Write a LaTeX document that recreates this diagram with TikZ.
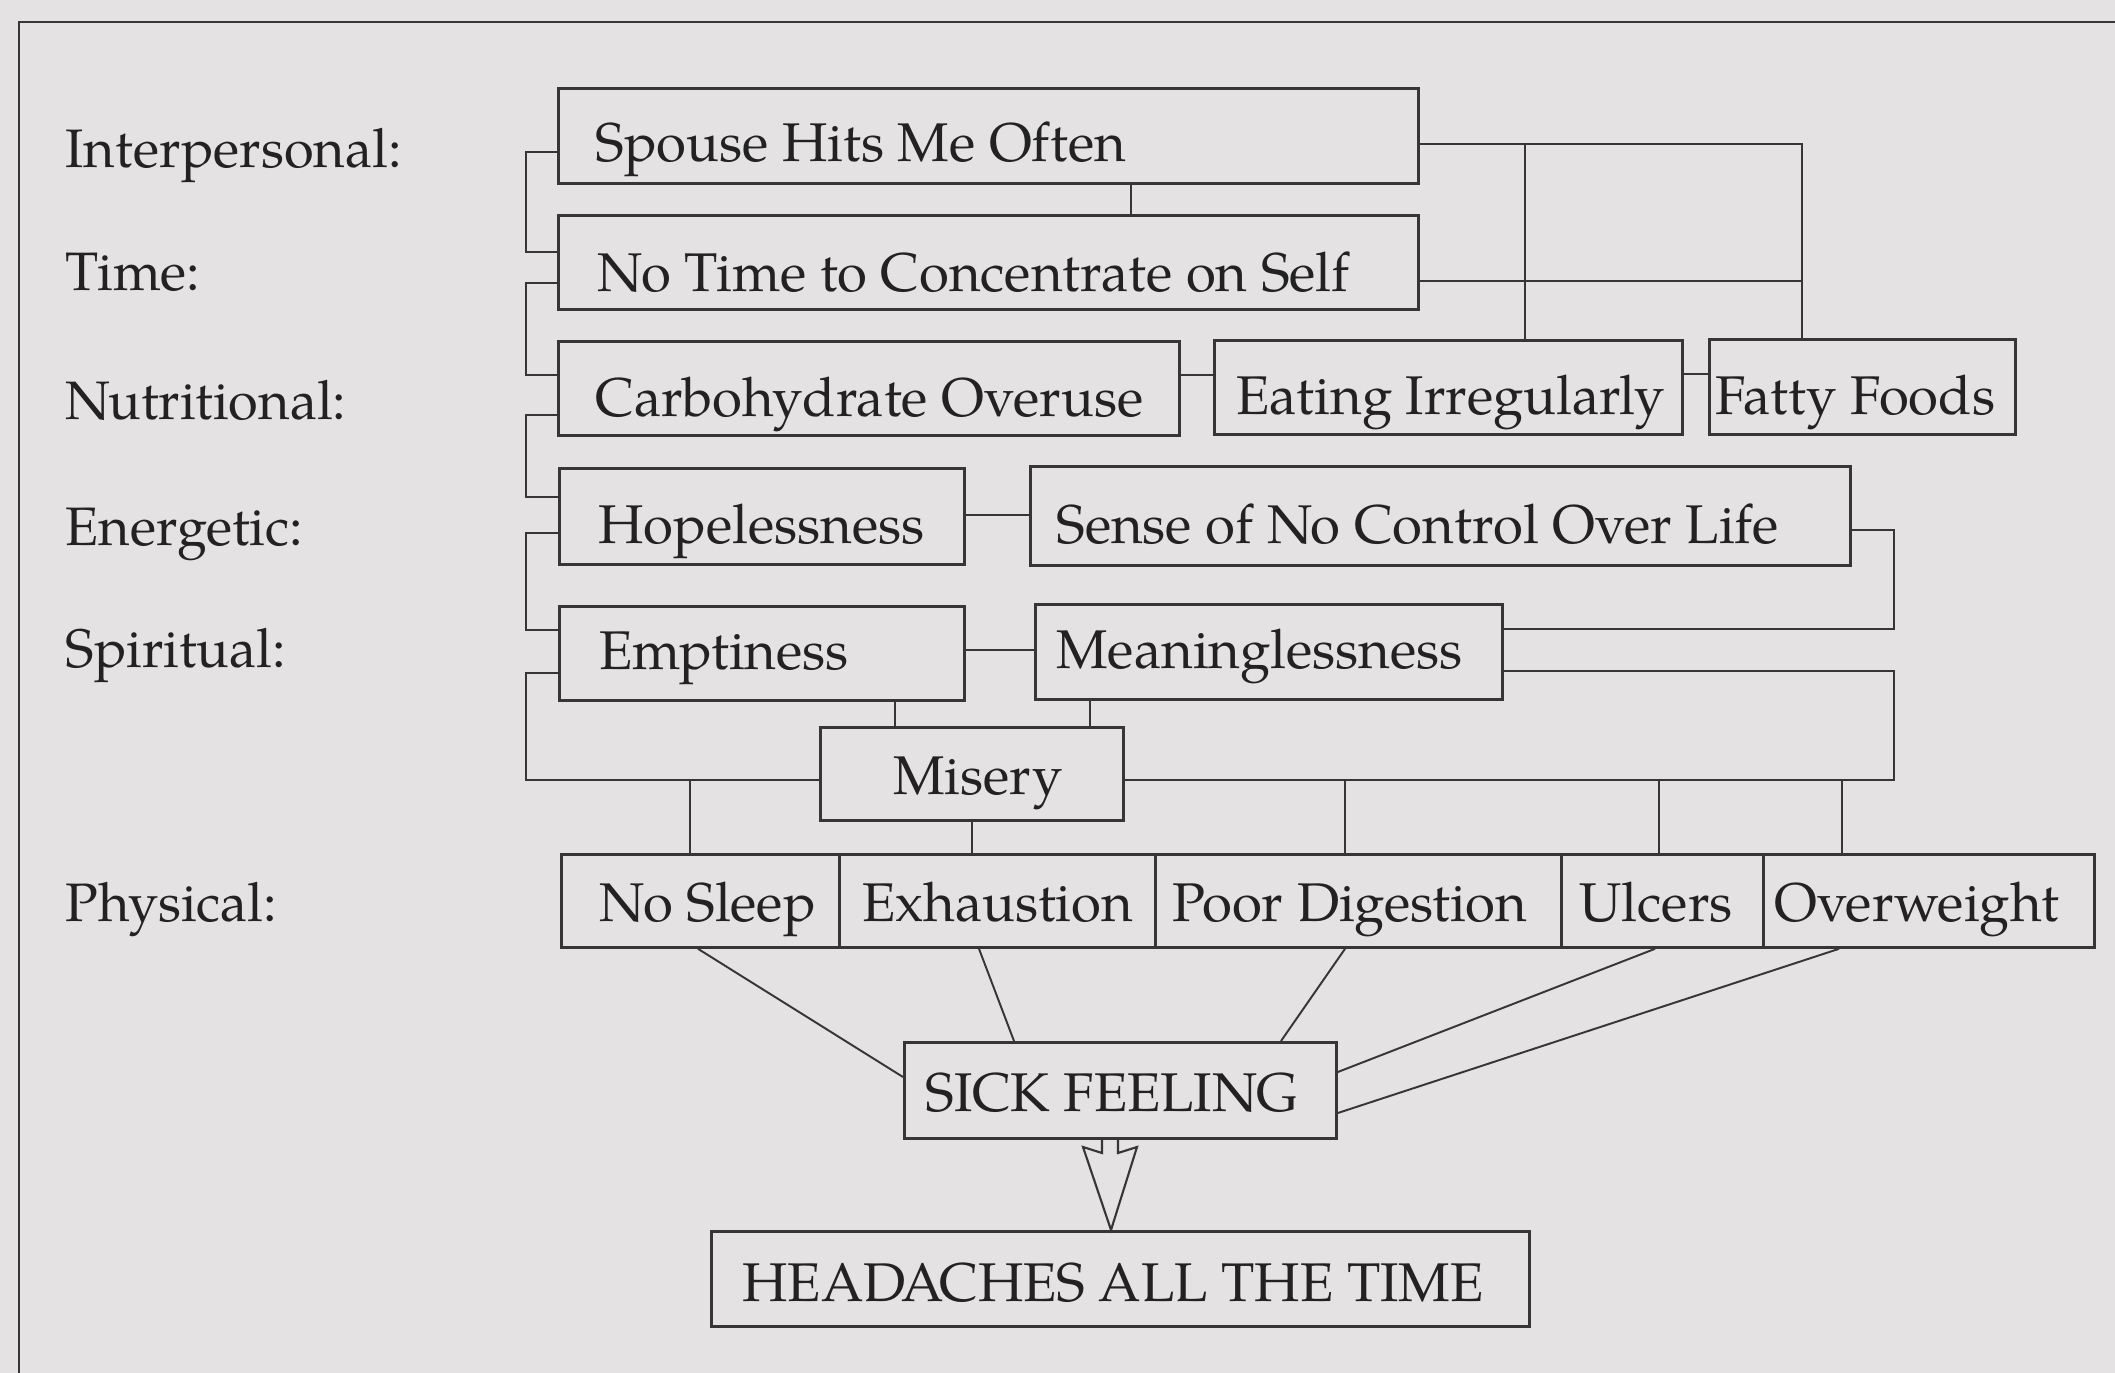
\documentclass[tikz,border=0pt]{standalone}
\usepackage{fontspec}
\setmainfont{TeX Gyre Pagella}
\definecolor{bgc}{HTML}{E4E2E2}
\definecolor{linec}{HTML}{363636}
\definecolor{textc}{HTML}{222222}
\tikzset{
  boxst/.style={draw=linec, line width=0.8pt, text=textc, inner sep=0pt,
    font=\fontsize{15.5}{19}\selectfont},
  lbl/.style={text=textc, inner sep=0pt, anchor=base west,
    font=\fontsize{15.4}{19}\selectfont},
  conn/.style={draw=linec, line width=0.55pt},
  framest/.style={draw=linec, line width=0.8pt},
  arrowst/.style={draw=linec, line width=0.6pt, line join=miter},
}
% name, x1, y1, x2, y2, left pad, baseline, text   (pixel units)
\newcommand\flowbox[8]{%
  \pgfmathsetmacro\fbW{(#4-#2)*0.01}%
  \pgfmathsetmacro\fbH{(#7-#3)*0.01}%
  \pgfmathsetmacro\fbD{(#5-#7)*0.01}%
  \pgfmathsetmacro\fbP{#6*0.01}%
  \node[boxst, anchor=north west, text height=\fbH cm, text depth=\fbD cm]
    (#1) at (#2,#3) {\makebox[\fbW cm][l]{\hspace*{\fbP cm}#8}};%
}
\begin{document}
\begin{tikzpicture}[x=0.01cm,y=-0.01cm]
\fill[bgc] (0,0) rectangle (2115,1373);
\useasboundingbox (0,0) rectangle (2115,1373);
% frame
\coordinate (frTL) at (19,22);
\coordinate (frTR) at (2115,22);
\coordinate (frBL) at (19,1373);
\draw[framest] (frTR) -- (frTL) -- (frBL);

% category labels
\node[lbl] (lInt) at (65,168) {Interpersonal:};
\node[lbl] (lTime) at (65,291) {Time:};
\node[lbl] (lNut) at (65,419) {Nutritional:};
\node[lbl] (lEne) at (65,545) {Energetic:};
\node[lbl] (lSpi) at (65,667) {Spiritual:};
\node[lbl] (lPhy) at (65,921) {Physical:};

% boxes
\flowbox{spouse}{557}{87}{1417}{182}{37}{160}{Spouse Hits Me Often}
\flowbox{time}{557}{214}{1417}{308}{39}{290}{No Time to Concentrate on Self}
\flowbox{carbo}{557}{340}{1178}{434}{37}{415}{Carbohydrate Overuse}
\flowbox{eating}{1213}{339}{1681}{433}{22}{413}{Eating Irregularly}
\flowbox{fatty}{1708}{338}{2014}{433}{6}{413}{Fatty Foods}
\flowbox{hope}{558}{467}{963}{563}{39}{542}{Hopelessness}
\flowbox{sense}{1029}{465}{1849}{564}{26}{542}{Sense of No Control Over Life}
\flowbox{empti}{558}{605}{963}{699}{40}{668}{Emptiness}
\flowbox{meaning}{1034}{603}{1501}{698}{21}{667}{Meaninglessness}
\flowbox{misery}{819}{726}{1122}{819}{73}{793}{Misery}
\flowbox{nosleep}{560}{853}{838}{946}{38}{920}{No Sleep}
\flowbox{exhaust}{838}{853}{1154}{946}{23}{920}{Exhaustion}
\flowbox{poordig}{1154}{853}{1560}{946}{17}{920}{Poor Digestion}
\flowbox{ulcers}{1560}{853}{1762}{946}{18}{920}{Ulcers}
\flowbox{overw}{1762}{853}{2093}{946}{11}{920}{Overweight}
\flowbox{sick}{903}{1041}{1335}{1137}{21}{1110}{SICK FEELING}
\flowbox{head}{710}{1230}{1528}{1325}{31}{1300}{HEADACHES ALL THE TIME}

% left brackets
\draw[conn] (spouse.west |- 0,152) -| (526,202) |- (time.west |- 0,252);
\draw[conn] (time.west |- 0,283) -| (526,330) |- (carbo.west |- 0,375);
\draw[conn] (carbo.west |- 0,415) -| (526,450) |- (hope.west |- 0,497);
\draw[conn] (hope.west |- 0,533) -| (526,580) |- (empti.west |- 0,630);
\draw[conn] (empti.west |- 0,673) -| (526,726) |- (misery.west |- 0,780);

% top right links
\draw[conn] (spouse.south -| 1131,0) -- (time.north -| 1131,0);
\draw[conn] (spouse.east |- 0,144) -| (fatty.north -| 1802,0);
\coordinate (jA) at (1525,144);
\coordinate (jB) at (1802,281);
\draw[conn] (jA) -- (eating.north -| jA);
\draw[conn] (time.east |- 0,281) -- (jB);
\draw[conn] (carbo.east |- 0,375) -- (eating.west |- 0,375);
\draw[conn] (eating.east |- 0,374) -- (fatty.west |- 0,374);

% energetic / spiritual
\draw[conn] (hope.east |- 0,515) -- (sense.west |- 0,515);
\draw[conn] (empti.east |- 0,650) -- (meaning.west |- 0,650);
\draw[conn] (sense.east |- 0,530) -| (1894,580) |- (meaning.east |- 0,629);
\draw[conn] (meaning.east |- 0,671) -| (1894,730) |- (misery.east |- 0,780);
\draw[conn] (empti.south -| 895,0) -- (misery.north -| 895,0);
\draw[conn] (meaning.south -| 1090,0) -- (misery.north -| 1090,0);

% down to physical
\coordinate (dA) at (690,780);
\coordinate (dB) at (1345,780);
\coordinate (dC) at (1659,780);
\coordinate (dD) at (1842,780);
\draw[conn] (misery.south -| 972,0) -- (exhaust.north -| 972,0);
\draw[conn] (dA) -- (nosleep.north -| dA);
\draw[conn] (dB) -- (poordig.north -| dB);
\draw[conn] (dC) -- (ulcers.north -| dC);
\draw[conn] (dD) -- (overw.north -| dD);

% physical to sick feeling
\draw[conn] (nosleep.south -| 698,0) -- (sick.west |- 0,1077);
\draw[conn] (exhaust.south -| 979,0) -- (sick.north -| 1014,0);
\draw[conn] (poordig.south -| 1345,0) -- (sick.north -| 1281,0);
\draw[conn] (ulcers.south -| 1655,0) -- (sick.east |- 0,1072);
\draw[conn] (overw.south -| 1839,0) -- (sick.east |- 0,1113);

% hollow arrow
\draw[arrowst] (sick.south -| 1102,0) -- (1102,1153) -- (1083,1147)
  -- (head.north -| 1111,0) -- (1137,1147) -- (1118,1153) -- (sick.south -| 1118,0);
\end{tikzpicture}
\end{document}
